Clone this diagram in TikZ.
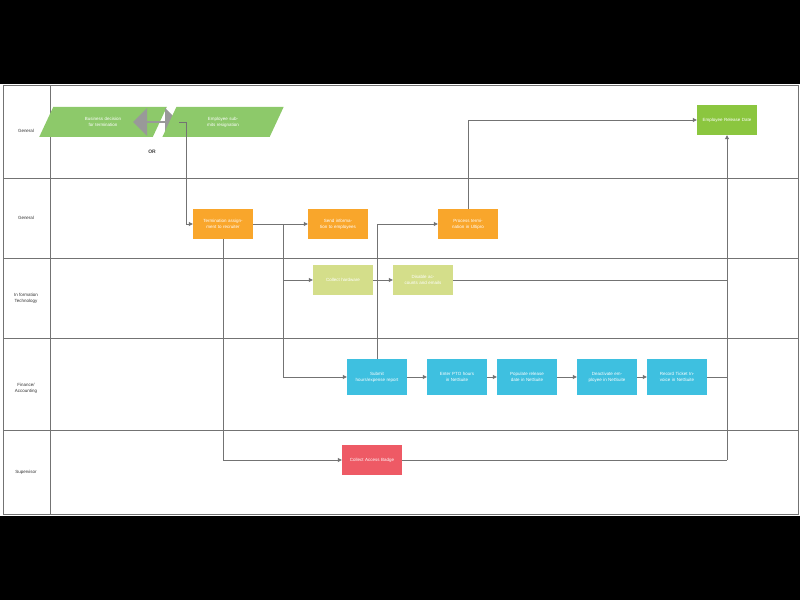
\documentclass[tikz,border=0pt]{standalone}
\usepackage{fontspec}
\setmainfont{Liberation Sans}
\usetikzlibrary{positioning, arrows.meta, shapes.geometric, shapes.arrows}
\definecolor{leafGreen}{HTML}{8DC96A}
\definecolor{termOrange}{HTML}{F9A62B}
\definecolor{paleGreen}{HTML}{D4DE8A}
\definecolor{flowBlue}{HTML}{3EC0E0}
\definecolor{badgeRed}{HTML}{EE5A65}
\definecolor{exitGreen}{HTML}{8BC63F}
\tikzset{%
	% Specifications for style of nodes:
	base/.style = {rectangle, draw=none, minimum width=60bp, minimum height=30bp,
		inner sep=2pt, text width=52bp, align=center, text=white,
		font=\fontsize{4.5pt}{6pt}\selectfont},
	input/.style = {base, trapezium, trapezium left angle=65, trapezium right angle=115,
		minimum width=48bp, text width=40bp, fill=leafGreen},
	hrTask/.style = {base, fill=termOrange},
	itTask/.style = {base, fill=paleGreen},
	finTask/.style = {base, minimum height=36bp, fill=flowBlue},
	supTask/.style = {base, fill=badgeRed},
	exitTask/.style = {base, fill=exitGreen},
	lane/.style = {draw=black!55, line width=0.6pt},
	laneText/.style = {font=\fontsize{4.5pt}{6pt}\selectfont, align=center, text=black!80},
	flow/.style = {draw=black!55, line width=0.8pt, -{Triangle[length=4pt,width=4pt]}},
	flowLine/.style = {draw=black!55, line width=0.8pt}
}
\begin{document}
\begin{tikzpicture}[x=1bp, y=-1bp]
		\fill[white] (0,0) rectangle (800,600);
		\fill[black] (0,0) rectangle (800,84);
		\fill[black] (0,516) rectangle (800,600);
		\useasboundingbox (0,0) rectangle (800,600);
		% lanes
		\draw[lane] (3,85) rectangle (798,514);
		\draw[lane] (50,85) -- (50,514);
		\foreach \y in {178,258,338,430} \draw[lane] (3,\y) -- (798,\y);
		\node[laneText] (laneGen1) at (26,131) {General};
		\node[laneText] (laneGen2) at (26,218) {General};
		\node[laneText] (laneIT) at (26,298) {In formation\\Technology};
		\node[laneText] (laneFin) at (26,388) {Finance/\\Accounting};
		\node[laneText] (laneSup) at (26,472) {Supervisor};
		% general
		\node (bizDecision) [input] at (103,122) {Business decision for termination};
		\node (orArrow) [double arrow, fill=black!40, draw=none, minimum width=28bp, minimum height=46bp, double arrow head extend=3bp, inner sep=0pt] at (156,122) {};
		\node (empResign) [input] at (223,122) {Employee submits resignation};
		\node (orText) [font=\fontsize{5pt}{6pt}\selectfont\bfseries, text=black!75] at (152,152) {OR};
		\node (empRelease) [exitTask] at (727,120) {Employee Release Date};
		% hr
		\node (termAssign) [hrTask] at (223,224) {Termination assignment to recruiter};
		\node (sendInfo) [hrTask] at (338,224) {Send information to employees};
		\node (procTerm) [hrTask] at (468,224) {Process termination in Ultipro};
		% it
		\node (collectHw) [itTask] at (343,280) {Collect hardware};
		\node (disableAcc) [itTask] at (423,280) {Disable accounts and emails};
		% finance
		\node (submitReport) [finTask] at (377,377) {Submit hours/expense report};
		\node (enterPto) [finTask] at (457,377) {Enter PTO hours in NetSuite};
		\node (populateDate) [finTask] at (527,377) {Populate release date in NetSuite};
		\node (deactivate) [finTask] at (607,377) {Deactivate employee in NetSuite};
		\node (recordTicket) [finTask] at (677,377) {Record Ticket Invoice in NetSuite};
		% supervisor
		\node (collectBadge) [supTask] at (372,460) {Collect Access Badge};
		\coordinate (mergeBottom) at (727,460);
		\coordinate (splitPoint) at (283,224);

		\draw[flow] (orArrow.east) -- ++(7,0) |- (termAssign.west);
		\draw[flow] (termAssign) -- (sendInfo);
		\draw[flow] (splitPoint) |- (collectHw.west);
		\draw[flow] (splitPoint) |- (submitReport.west);
		\draw[flow] (collectHw) -- (disableAcc);
		\draw[flow] (submitReport.north) |- (procTerm.west);
		\draw[flow] (procTerm.north) |- (empRelease.west);
		\draw[flow] (submitReport) -- (enterPto);
		\draw[flow] (enterPto) -- (populateDate);
		\draw[flow] (populateDate) -- (deactivate);
		\draw[flow] (deactivate) -- (recordTicket);
		\draw[flow] (termAssign.south) |- (collectBadge.west);
		\draw[flowLine] (collectBadge.east) -- (mergeBottom);
		\draw[flowLine] (recordTicket.east) -- (recordTicket.east -| mergeBottom);
		\draw[flowLine] (disableAcc.east) -- (disableAcc.east -| mergeBottom);
		\draw[flow] (mergeBottom) -- (empRelease.south);
	\end{tikzpicture}
\end{document}
